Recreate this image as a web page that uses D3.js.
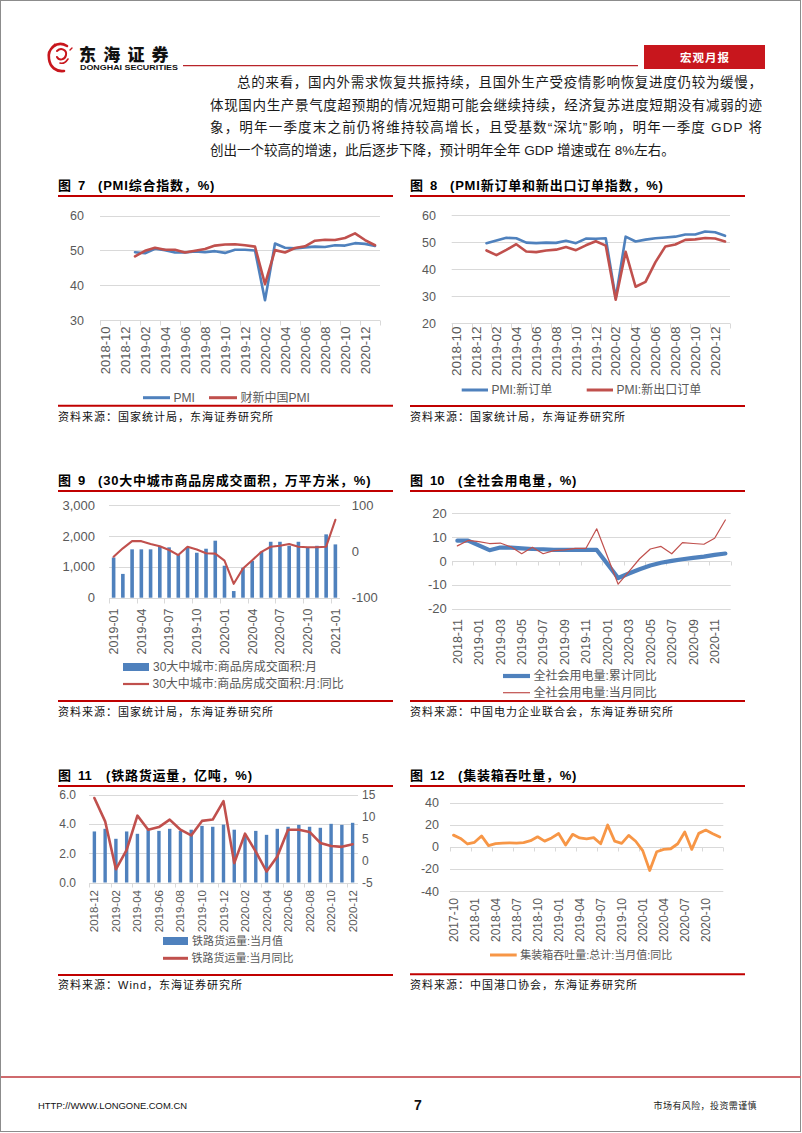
<!DOCTYPE html>
<html><head><meta charset="utf-8">
<script src="https://cdn.jsdelivr.net/npm/d3@7"></script>
<style>
body{margin:0;background:#fff;}
svg{display:block;}
text{font-family:"Liberation Sans","Noto Sans CJK SC",sans-serif;}
</style></head><body>
<svg id="page" width="802" height="1133"></svg>
<script>
// ---------------- DATA ----------------
const pmiMonths = ["2018-10","2018-11","2018-12","2019-01","2019-02","2019-03","2019-04","2019-05","2019-06","2019-07","2019-08","2019-09","2019-10","2019-11","2019-12","2020-01","2020-02","2020-03","2020-04","2020-05","2020-06","2020-07","2020-08","2020-09","2020-10","2020-11","2020-12","2021-01"];
const pmiOfficial = [null,null,null,49.5,49.2,50.5,50.1,49.4,49.4,49.7,49.5,49.8,49.3,50.2,50.2,50.0,35.7,52.0,50.8,50.6,50.9,51.1,51.0,51.5,51.4,52.1,51.9,51.3];
const pmiCaixin = [null,null,null,48.3,49.9,50.8,50.2,50.2,49.4,49.9,50.4,51.4,51.7,51.8,51.5,51.1,40.3,50.1,49.4,50.7,51.2,52.8,53.1,53.0,53.6,54.9,53.0,51.5];
const pmiNewOrders = [null,null,null,49.6,50.6,51.6,51.4,49.8,49.6,49.8,49.7,50.5,49.6,51.3,51.2,51.4,29.3,52.0,50.2,50.9,51.4,51.7,52.0,52.8,52.8,53.9,53.6,52.3];
const pmiNewExport = [null,null,null,46.9,45.2,47.1,49.2,46.5,46.3,46.9,47.2,48.2,47.0,48.8,50.3,48.7,28.7,46.4,33.5,35.3,42.6,48.4,49.1,50.8,51.0,51.5,51.3,50.2];

const houseMonths = ["2019-01","2019-02","2019-03","2019-04","2019-05","2019-06","2019-07","2019-08","2019-09","2019-10","2019-11","2019-12","2020-01","2020-02","2020-03","2020-04","2020-05","2020-06","2020-07","2020-08","2020-09","2020-10","2020-11","2020-12","2021-01"];
const houseArea = [1300,770,1565,1565,1565,1650,1630,1380,1630,1455,1585,1845,1035,215,970,1190,1490,1810,1810,1680,1810,1630,1680,2050,1725];
const houseYoY = [-11.5,6.5,22,22,16,11,3,-8,10,4,-4,-5,-20,-70,-37,-19,-1,10,12,16,10,9,9,10,68];

const elecMonths = ["2018-11","2018-12","2019-01","2019-02","2019-03","2019-04","2019-05","2019-06","2019-07","2019-08","2019-09","2019-10","2019-11","2019-12","2020-01","2020-02","2020-03","2020-04","2020-05","2020-06","2020-07","2020-08","2020-09","2020-10","2020-11","2020-12"];
const elecCum = [8.5,8.5,null,4.5,5.6,5.6,5.3,5.0,4.9,4.6,4.6,4.6,4.6,4.6,null,-7.2,-5.3,-3.5,-1.9,-0.8,0.0,0.7,1.3,1.8,2.5,3.1];
const elecMonthly = [6.3,8.6,8.1,7.3,7.5,5.9,3.0,5.7,3.0,4.3,4.6,5.3,5.3,13.5,null,-9.8,-4.5,0.9,5.0,6.1,3.0,7.7,7.3,7.0,9.5,17.2];

const railMonths = ["2018-12","2019-01","2019-02","2019-03","2019-04","2019-05","2019-06","2019-07","2019-08","2019-09","2019-10","2019-11","2019-12","2020-01","2020-02","2020-03","2020-04","2020-05","2020-06","2020-07","2020-08","2020-09","2020-10","2020-11","2020-12"];
const railVol = [3.48,3.66,2.98,3.48,3.32,3.6,3.52,3.66,3.52,3.6,3.86,3.8,3.95,3.6,3.2,3.52,3.25,3.66,3.8,3.93,3.8,3.73,4.0,3.93,4.07];
const railYoY = [14.2,8.9,-2.0,2.4,10.2,7.0,7.6,9.3,7.0,5.7,9.0,9.3,13.5,-0.6,6.1,2.0,-2.5,0.9,7.0,7.0,6.5,4.0,3.3,3.1,3.7];

const portMonths = ["2017-10","2017-11","2017-12","2018-01","2018-02","2018-03","2018-04","2018-05","2018-06","2018-07","2018-08","2018-09","2018-10","2018-11","2018-12","2019-01","2019-02","2019-03","2019-04","2019-05","2019-06","2019-07","2019-08","2019-09","2019-10","2019-11","2019-12","2020-01","2020-02","2020-03","2020-04","2020-05","2020-06","2020-07","2020-08","2020-09","2020-10","2020-11","2020-12"];
const portYoY = [10.5,7.5,2.5,4.0,9.8,1.0,2.8,3.3,3.5,3.3,3.8,5.5,9.0,5.1,8.0,12.0,1.5,11.2,8.0,7.2,8.2,2.7,19.6,5.1,3.0,10.3,5.0,-3.5,-21.5,-4.5,-2.4,-1.8,2.7,13.3,-2.4,12.1,15.1,11.8,8.8];

const ticks7 = [30,40,50,60];
const ticks8 = [20,30,40,50,60];
const ticks9L = [0,1000,2000,3000];
const ticks9R = [-100,0,100];
const ticks10 = [-20,-10,0,10,20];
const ticks11L = [0,2,4,6];
const ticks11R = [-5,0,5,10,15];
const ticks12 = [-40,-20,0,20,40];

const paragraph = [
  "总的来看，国内外需求恢复共振持续，且国外生产受疫情影响恢复进度仍较为缓慢，",
  "体现国内生产景气度超预期的情况短期可能会继续持续，经济复苏进度短期没有减弱的迹",
  "象，明年一季度末之前仍将维持较高增长，且受基数“深坑”影响，明年一季度 GDP 将",
  "创出一个较高的增速，此后逐步下降，预计明年全年 GDP 增速或在 8%左右。"
];

// ---------------- DRAW ----------------
const svg = d3.select("#page");
const FONT = '"Liberation Sans","Noto Sans CJK SC",sans-serif';
const GRID = "#d9d9d9", LBL = "#595959", RED = "#c00000";
const BLUE = "#4f81bd", DRED = "#c0504d", ORANGE = "#f79646";

// page frame
svg.append("rect").attr("x",0.5).attr("y",0.5).attr("width",800).attr("height",1131)
  .attr("fill","none").attr("stroke","#8c8c8c").attr("stroke-width",1);

// header logo
const logo = svg.append("g").attr("fill","none").attr("stroke","#c8161d").attr("stroke-linecap","round");
logo.append("path").attr("d","M67,46 C57,40 47,49 49,59 C50,67 56,72 64,71").attr("stroke-width",2.6);
logo.append("path").attr("d","M57,51 C61,47 67,50 66,55 C65,60 59,61 57,57").attr("stroke-width",2);
logo.append("path").attr("d","M60,63 C63,64 66,62 68,59").attr("stroke-width",1.6);
logo.append("path").attr("d","M52,47 L55,44 M70,50 L72,48").attr("stroke-width",1.4);
svg.append("text").attr("x",79).attr("y",60.5).attr("font-size",17).attr("font-weight",900)
  .attr("letter-spacing",7.2).attr("fill","#111").text("东海证券");
svg.append("text").attr("x",80).attr("y",69.5).attr("font-size",7.5).attr("font-weight","bold")
  .attr("textLength",98).attr("lengthAdjust","spacingAndGlyphs").attr("fill","#111").text("DONGHAI SECURITIES");
svg.append("line").attr("x1",183).attr("x2",638).attr("y1",65.7).attr("y2",65.7).attr("stroke","#b8242a").attr("stroke-width",1.2);
svg.append("rect").attr("x",644).attr("y",45).attr("width",121).attr("height",24).attr("fill","#c8161d");
svg.append("text").attr("x",705).attr("y",62).attr("text-anchor","middle").attr("font-size",11.5)
  .attr("font-weight","bold").attr("letter-spacing",1).attr("fill","#fff").text("宏观月报");

// paragraph
const paraX = [237,210,210,210], paraY = [87,109.5,132,154.5], paraLen = [525,552,552,null];
paragraph.forEach((s,i)=>{
  const t = svg.append("text").attr("x",paraX[i]).attr("y",paraY[i]).attr("font-size",13.5).attr("fill","#1a1a1a").text(s);
  if (paraLen[i]) t.attr("textLength",paraLen[i]).attr("lengthAdjust","spacing");
});

// footer
svg.append("line").attr("x1",1).attr("x2",801).attr("y1",1077).attr("y2",1077).attr("stroke","#cf6a6d").attr("stroke-width",2);
svg.append("text").attr("x",38).attr("y",1109).attr("font-size",9.5).attr("textLength",149)
  .attr("lengthAdjust","spacingAndGlyphs").attr("fill","#111").text("HTTP://WWW.LONGONE.COM.CN");
svg.append("text").attr("x",418).attr("y",1110).attr("text-anchor","middle").attr("font-size",14).attr("font-weight","bold").attr("fill","#111").text("7");
svg.append("text").attr("x",757).attr("y",1108.5).attr("text-anchor","end").attr("font-size",9).attr("letter-spacing",0.4).attr("fill","#222").text("市场有风险，投资需谨慎");

// helpers
function title(x, base, num, txt, lineY) {
  const t = svg.append("text").attr("y",base).attr("font-size",13).attr("font-weight","bold").attr("fill","#000");
  t.append("tspan").attr("x",x).text("图");
  t.append("tspan").attr("x",x+20).text(num);
  t.append("tspan").attr("x",x+(num.length>1?48:40)).attr("letter-spacing",0.8).text(txt);
  svg.append("line").attr("x1",x).attr("x2",x+335).attr("y1",lineY).attr("y2",lineY).attr("stroke",RED).attr("stroke-width",2);
}
function source(x, base, txt, lineY) {
  svg.append("line").attr("x1",x).attr("x2",x+335).attr("y1",lineY).attr("y2",lineY).attr("stroke",RED).attr("stroke-width",2);
  svg.append("text").attr("x",x).attr("y",base).attr("font-size",11).attr("letter-spacing",1).attr("fill","#111").text(txt);
}
function grid(g, y, vals, x0, x1) {
  g.selectAll(null).data(vals).join("line").attr("x1",x0).attr("x2",x1)
    .attr("y1",d=>Math.round(y(d))+0.5).attr("y2",d=>Math.round(y(d))+0.5).attr("stroke",GRID).attr("stroke-width",1);
}
function yAxisLeft(g, y, ticks, xr, fs, fmt) {
  const ag = g.append("g").attr("transform",`translate(${xr},0)`)
    .call(d3.axisLeft(y).tickValues(ticks).tickSize(0).tickPadding(0).tickFormat(fmt));
  ag.select(".domain").remove();
  ag.attr("font-family",FONT).attr("font-size",fs);
  ag.selectAll("text").attr("fill",LBL);
}
function yAxisRight(g, y, ticks, xl, fs, fmt) {
  const ag = g.append("g").attr("transform",`translate(${xl},0)`)
    .call(d3.axisRight(y).tickValues(ticks).tickSize(0).tickPadding(0).tickFormat(fmt));
  ag.select(".domain").remove();
  ag.attr("font-family",FONT).attr("font-size",fs);
  ag.selectAll("text").attr("fill",LBL);
}
function xAxis(g, x, cats, yAx, labelTop, every, fs, tickUp, tickDown) {
  const [x0,x1] = x.range();
  const ya = Math.round(yAx)+0.5;
  g.append("line").attr("x1",x0).attr("x2",x1).attr("y1",ya).attr("y2",ya).attr("stroke",GRID).attr("stroke-width",1);
  const bounds = d3.range(0, cats.length+1, every).map(i => Math.round(x0 + i*x.step())+0.5);
  g.selectAll(null).data(bounds).join("line").attr("x1",d=>d).attr("x2",d=>d)
    .attr("y1",ya-tickUp).attr("y2",ya+tickDown).attr("stroke",GRID).attr("stroke-width",1);
  const ag = g.append("g").attr("transform",`translate(0,${labelTop})`)
    .call(d3.axisBottom(x).tickValues(cats.filter((c,i)=>i%every===0)).tickSize(0));
  ag.select(".domain").remove();
  ag.attr("font-family",FONT).attr("font-size",fs);
  ag.selectAll("text").attr("transform","rotate(-90)").attr("text-anchor","end")
    .attr("x",0).attr("y",0).attr("dy","0.35em").attr("fill",LBL);
}
function lineSeries(g, x, y, cats, vals, color, w) {
  const pts = cats.map((c,i)=>({c, v: vals[i]})).filter(d => d.v !== null);
  const ln = d3.line().x(d => x(d.c) + x.bandwidth()/2).y(d => y(d.v));
  g.append("path").attr("d", ln(pts)).attr("fill","none").attr("stroke",color)
    .attr("stroke-width",w).attr("stroke-linejoin","round").attr("stroke-linecap","round");
}
function barSeries(g, x, y, cats, vals, color, w) {
  g.selectAll(null).data(cats.map((c,i)=>({c, v: vals[i]}))).join("rect")
    .attr("x", d => x(d.c) + x.bandwidth()/2 - w/2).attr("width", w)
    .attr("y", d => y(d.v)).attr("height", d => y(0) - y(d.v)).attr("fill", color);
}
function legLine(x1, x2, y, color, w, txt, fs) {
  svg.append("line").attr("x1",x1).attr("x2",x2).attr("y1",y).attr("y2",y).attr("stroke",color).attr("stroke-width",w);
  svg.append("text").attr("x",x2+3.5).attr("y",y+fs*0.36).attr("font-size",fs).attr("fill",LBL).text(txt);
}
function legBar(x1, x2, y, h, color, txt, fs) {
  svg.append("rect").attr("x",x1).attr("y",y-h/2).attr("width",x2-x1).attr("height",h).attr("fill",color);
  svg.append("text").attr("x",x2+4).attr("y",y+fs*0.36).attr("font-size",fs).attr("fill",LBL).text(txt);
}
const intFmt = d => String(d);

// ---------- Chart 7 ----------
{
  title(58, 190, "7", "(PMI综合指数，%)", 196);
  const g = svg.append("g");
  const x = d3.scaleBand().domain(pmiMonths).range([100,380]);
  const y = d3.scaleLinear().domain([30,60]).range([320,215.7]);
  grid(g, y, ticks7.filter(v=>v!==30), 100, 380);
  xAxis(g, x, pmiMonths, y(30), 326.5, 2, 13, 0, 5);
  yAxisLeft(g, y, ticks7, 84, 12.5, intFmt);
  lineSeries(g, x, y, pmiMonths, pmiOfficial, BLUE, 2.6);
  lineSeries(g, x, y, pmiMonths, pmiCaixin, DRED, 2.6);
  legLine(143, 170, 397.7, BLUE, 3, "PMI", 12);
  legLine(209, 237, 397.7, DRED, 3, "财新中国PMI", 12);
  source(58, 421, "资料来源：国家统计局，东海证券研究所", 405.7);
}
// ---------- Chart 8 ----------
{
  title(410, 190, "8", "(PMI新订单和新出口订单指数，%)", 196);
  const g = svg.append("g");
  const x = d3.scaleBand().domain(pmiMonths).range([451.7,730]);
  const y = d3.scaleLinear().domain([20,60]).range([323.3,215]);
  grid(g, y, ticks8.filter(v=>v!==20), 451.7, 730);
  xAxis(g, x, pmiMonths, y(20), 326.5, 2, 13.5, 0, 5);
  yAxisLeft(g, y, ticks8, 436, 12.5, intFmt);
  lineSeries(g, x, y, pmiMonths, pmiNewOrders, BLUE, 2.6);
  lineSeries(g, x, y, pmiMonths, pmiNewExport, DRED, 2.6);
  legLine(461.7, 488, 390, BLUE, 3, "PMI:新订单", 12);
  legLine(586.7, 613, 390, DRED, 3, "PMI:新出口订单", 12);
  source(410, 421, "资料来源：国家统计局，东海证券研究所", 406);
}
// ---------- Chart 9 ----------
{
  title(58, 485, "9", "(30大中城市商品房成交面积，万平方米，%)", 491);
  const g = svg.append("g");
  const x = d3.scaleBand().domain(houseMonths).range([109,340]);
  const yL = d3.scaleLinear().domain([0,3000]).range([597.7,505]);
  const yR = d3.scaleLinear().domain([-100,100]).range([597.7,505]);
  grid(g, yL, ticks9L.filter(v=>v!==0), 109, 340);
  barSeries(g, x, yL, houseMonths, houseArea, BLUE, 3.6);
  xAxis(g, x, houseMonths, yL(0), 608.5, 3, 12.5, 0, 5);
  yAxisLeft(g, yL, ticks9L, 95, 13, d3.format(","));
  yAxisRight(g, yR, ticks9R, 351.7, 13, intFmt);
  lineSeries(g, x, yR, houseMonths, houseYoY, DRED, 2.1);
  legBar(123, 149, 667, 8, BLUE, "30大中城市:商品房成交面积:月", 12);
  legLine(123, 149, 684, DRED, 2.2, "30大中城市:商品房成交面积:月:同比", 12);
  source(58, 716, "资料来源：国家统计局，东海证券研究所", 701);
}
// ---------- Chart 10 ----------
{
  title(410, 485, "10", "(全社会用电量，%)", 491);
  const g = svg.append("g");
  const x = d3.scaleBand().domain(elecMonths).range([452,730.7]);
  const y = d3.scaleLinear().domain([-20,20]).range([608.5,513.3]);
  grid(g, y, ticks10.filter(v=>v!==0), 452, 730.7);
  xAxis(g, x, elecMonths, y(0), 619, 2, 12.5, 0, 4);
  yAxisLeft(g, y, ticks10, 446.7, 13, intFmt);
  lineSeries(g, x, y, elecMonths, elecCum, BLUE, 4.2);
  lineSeries(g, x, y, elecMonths, elecMonthly, DRED, 1.2);
  legLine(503, 530, 676, BLUE, 4.2, "全社会用电量:累计同比", 12);
  legLine(503, 530, 692.7, DRED, 1.2, "全社会用电量:当月同比", 12);
  source(410, 716, "资料来源：中国电力企业联合会，东海证券研究所", 701);
}
// ---------- Chart 11 ----------
{
  title(58, 780, "11", "(铁路货运量，亿吨，%)", 786);
  const g = svg.append("g");
  const x = d3.scaleBand().domain(railMonths).range([89,358]);
  const yL = d3.scaleLinear().domain([0,6]).range([882.5,794.5]);
  const yR = d3.scaleLinear().domain([-5,15]).range([882.5,794.5]);
  grid(g, yL, ticks11L.filter(v=>v!==0), 89, 358);
  barSeries(g, x, yL, railMonths, railVol, BLUE, 3.4);
  xAxis(g, x, railMonths, yL(0), 890, 2, 11.5, 0, 4);
  yAxisLeft(g, yL, ticks11L, 76, 12, d3.format(".1f"));
  yAxisRight(g, yR, ticks11R, 362, 12, intFmt);
  lineSeries(g, x, yR, railMonths, railYoY, DRED, 2.6);
  legBar(163, 188, 941, 8, BLUE, "铁路货运量:当月值", 11);
  legLine(163, 188, 958.3, DRED, 3, "铁路货运量:当月同比", 11);
  source(58, 989, "资料来源：Wind，东海证券研究所", 975);
}
// ---------- Chart 12 ----------
{
  title(410, 780, "12", "(集装箱吞吐量，%)", 786);
  const g = svg.append("g");
  const x = d3.scaleBand().domain(portMonths).range([450,723.3]);
  const y = d3.scaleLinear().domain([-40,40]).range([891,802.5]);
  grid(g, y, ticks12.filter(v=>v!==0), 450, 723.3);
  xAxis(g, x, portMonths, y(0), 898, 3, 12, 0, 4);
  yAxisLeft(g, y, ticks12, 439, 12.5, intFmt);
  lineSeries(g, x, y, portMonths, portYoY, ORANGE, 2.8);
  legLine(490, 516.7, 955, ORANGE, 3, "集装箱吞吐量:总计:当月值:同比", 11);
  source(410, 989, "资料来源：中国港口协会，东海证券研究所", 974.3);
}
</script>
</body></html>
